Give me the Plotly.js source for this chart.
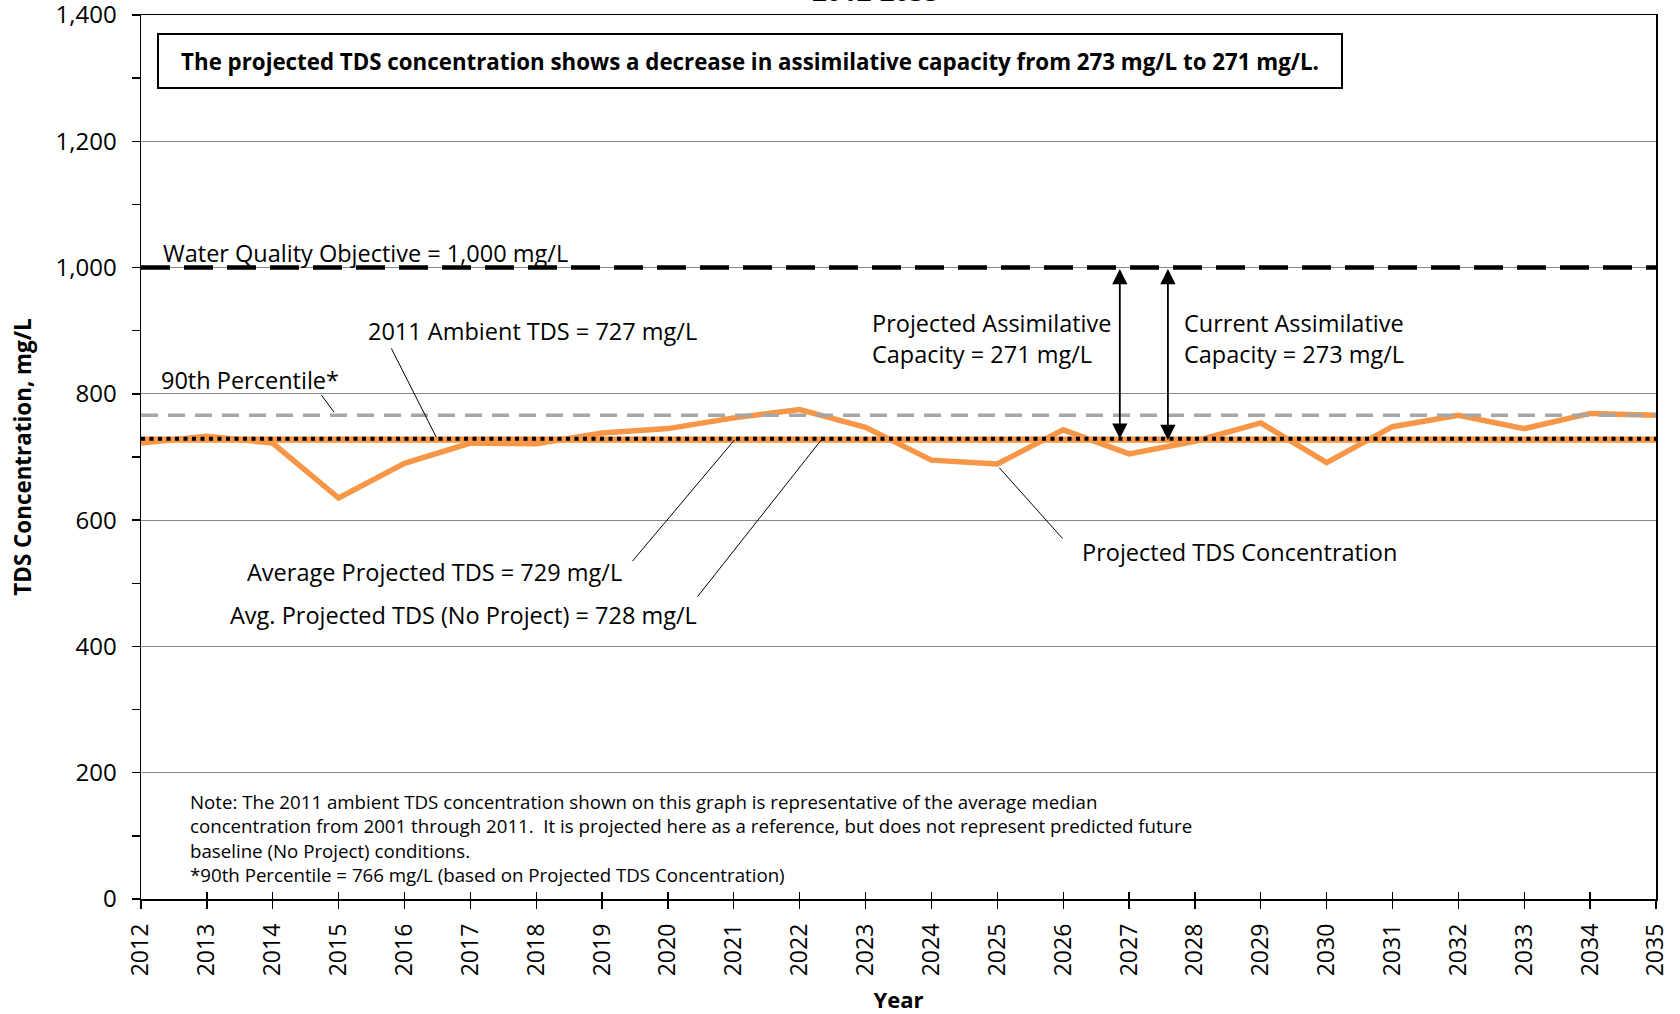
<!DOCTYPE html>
<html>
<head>
<meta charset="utf-8">
<script src="https://cdn.plot.ly/plotly-3.0.1.min.js"></script>
<style>html,body{margin:0;padding:0;background:#fff;}#chart{width:1680px;height:1014px;}</style>
</head>
<body>
<div id="chart"></div>
<script>
// ---- data ----
const years = [2012,2013,2014,2015,2016,2017,2018,2019,2020,2021,2022,2023,2024,2025,2026,2027,2028,2029,2030,2031,2032,2033,2034,2035];
const projectedTDS = [722,733,722,635,690,722,721,738,745,762,775,747,695,689,743,705,725,754,691,748,766,745,769,766];
const ambient2011 = 727;
const avgProjected = 729;
const avgNoProject = 728;
const percentile90 = 766;
const waterQualityObjective = 1000;
const yTickVals = [0,200,400,600,800,1000,1200,1400];
const yTickLabels = ['0','200','400','600','800','1,000','1,200','1,400'];
const yMinorVals = [100,300,500,700,900,1100,1300];
const xTickLabels = years.map(String);

const firstYear = years[0], lastYear = years[years.length-1];
const span = [firstYear, lastYear];
const flat = v => [v, v];

const ORANGE = '#F79646';
const FONT = 'Open Sans, Noto Sans, sans-serif';
const LBL = 23.5;

const traces = [
  {x: span, y: flat(ambient2011), mode:'lines', line:{color:ORANGE, width:5.5}, name:'2011 Ambient TDS', hoverinfo:'skip'},
  {x: span, y: flat(avgNoProject), mode:'lines', line:{color:ORANGE, width:5.5}, name:'Avg. Projected TDS (No Project)', hoverinfo:'skip'},
  {x: years, y: projectedTDS, mode:'lines', line:{color:ORANGE, width:5.5}, name:'Projected TDS Concentration'},
  {x: span, y: flat(avgProjected), mode:'lines', line:{color:'#000', width:4, dash:'4px,4.5px'}, name:'Average Projected TDS'},
  {x: span, y: flat(waterQualityObjective), mode:'lines', line:{color:'#000', width:4.5, dash:'29px,14px'}, name:'Water Quality Objective'},
  {x: span, y: flat(percentile90), xaxis:'x2', mode:'lines', line:{color:'#A6A6A6', width:3.5, dash:'17px,10px'}, name:'90th Percentile'}
];

const lbl = (text, x, y, extra) => Object.assign({
  text, x, y, xref:'x', yref:'y', xanchor:'left', yanchor:'middle', showarrow:false, align:'left',
  font:{family:FONT, size:LBL, color:'#000'}
}, extra||{});

const arrow = (x, yLow, yHigh) => ({
  x, y:yLow, ax:x, ay:yHigh, xref:'x', yref:'y', axref:'x', ayref:'y', text:'', showarrow:true,
  arrowside:'end+start', arrowhead:2, arrowsize:1.7, arrowwidth:1.8, arrowcolor:'#000', standoff:0, startstandoff:0
});

const annotations = [
  {text:'<b>2012-2035</b>', xref:'paper', yref:'paper', x:0.4845, y:1.027, xanchor:'center', yanchor:'middle', showarrow:false, font:{family:FONT, size:26, color:'#000'}},
  {text:'<b>The projected TDS concentration shows a decrease in assimilative capacity from 273 mg/L to 271 mg/L.</b>',
   x:2021.24, y:1327, xref:'x', yref:'y', xanchor:'center', yanchor:'middle', showarrow:false,
   width:1180, height:50, borderpad:1, bordercolor:'#000', borderwidth:2, bgcolor:'#fff',
   font:{family:FONT, size:22.3, color:'#000'}},
  lbl('Water Quality Objective = 1,000 mg/L', 2012.30, 1023),
  lbl('2011 Ambient TDS = 727 mg/L', 2015.41, 899),
  lbl('90th Percentile*', 2012.27, 822),
  lbl('Projected Assimilative<br>Capacity = 271 mg/L', 2023.07, 888),
  lbl('Current Assimilative<br>Capacity = 273 mg/L', 2027.80, 888),
  lbl('Average Projected TDS = 729 mg/L', 2013.58, 518),
  lbl('Avg. Projected TDS (No Project) = 728 mg/L', 2013.32, 450),
  lbl('Projected TDS Concentration', 2026.26, 550),
  lbl('Note: The 2011 ambient TDS concentration shown on this graph is representative of the average median<br>concentration from 2001 through 2011.  It is projected here as a reference, but does not represent predicted future<br>baseline (No Project) conditions.<br>*90th Percentile = 766 mg/L (based on Projected TDS Concentration)', 2012.71, 96, {font:{family:FONT, size:18.7, color:'#000'}}),
  arrow(2026.86, avgProjected, waterQualityObjective),
  arrow(2027.59, ambient2011, waterQualityObjective)
];

const leader = (x0, y0, x1, y1) => ({type:'line', xref:'x', yref:'y', x0, y0, x1, y1, line:{color:'#000', width:1}});
const shapes = [
  leader(2014.74, 798, 2014.93, 771),
  leader(2015.80, 872, 2016.48, 732),
  leader(2019.46, 535, 2021.01, 727),
  leader(2020.45, 479, 2022.35, 730),
  leader(2025.99, 571, 2025.03, 683)
];

const layout = {
  width:1680, height:1014,
  margin:{l:141, r:24, t:15, b:115, pad:0},
  paper_bgcolor:'#fff', plot_bgcolor:'#fff',
  showlegend:false,
  font:{family:FONT, color:'#000'},
  xaxis:{
    range:span, tickmode:'array', tickvals:years, ticktext:xTickLabels, tickangle:-90,
    ticks:'outside', ticklen:8, tickcolor:'#000', tickwidth:1.3,
    showline:true, linecolor:'#000', linewidth:1.5, mirror:true,
    showgrid:false, zeroline:false, ticklabelstandoff:6,
    tickfont:{family:FONT, size:23, color:'#000'},
    title:{text:'Year', font:{family:FONT, size:22, weight:'bold', color:'#000'}, standoff:18}
  },
  xaxis2:{
    range:span, overlaying:'x', anchor:'y', side:'bottom', tickmode:'array', tickvals:years,
    ticks:'inside', ticklen:7, tickcolor:'#000', tickwidth:1.3,
    showticklabels:false, showgrid:false, showline:false, zeroline:false
  },
  yaxis:{
    range:[0,1400], tickmode:'array', tickvals:yTickVals, ticktext:yTickLabels,
    ticks:'outside', ticklen:8, tickcolor:'#000', tickwidth:1.3,
    minor:{tickmode:'array', tickvals:yMinorVals, ticks:'outside', ticklen:8, tickcolor:'#000', tickwidth:1.3, showgrid:false},
    showline:true, linecolor:'#000', linewidth:1.5, mirror:true,
    showgrid:true, gridcolor:'#888888', gridwidth:1, zeroline:false, ticklabelstandoff:10,
    ticklabeloverflow:'allow',
    tickfont:{family:FONT, size:24, color:'#000'},
    title:{text:'TDS Concentration, mg/L', font:{family:FONT, size:22.4, weight:'bold', color:'#000'}, standoff:18}
  },
  annotations, shapes
};

Plotly.newPlot('chart', traces, layout, {displayModeBar:false, staticPlot:true});
</script>
</body>
</html>
